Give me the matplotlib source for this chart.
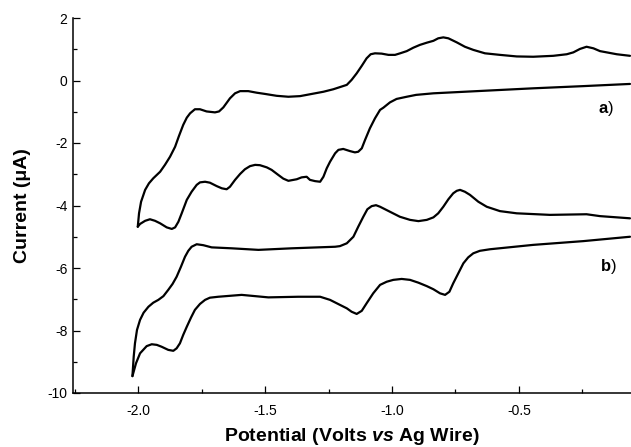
import matplotlib
matplotlib.use("Agg")
import matplotlib.pyplot as plt
from matplotlib.ticker import MultipleLocator

plt.rcParams['font.family'] = ['Liberation Sans', 'DejaVu Sans']
plt.rcParams['mathtext.fontset'] = 'custom'
plt.rcParams['mathtext.rm'] = 'Liberation Sans'
plt.rcParams['mathtext.bf'] = 'Liberation Sans:bold'
plt.rcParams['mathtext.it'] = 'Liberation Sans:italic'
plt.rcParams['mathtext.bfit'] = 'Liberation Sans:italic:bold'

# ---- data (potential in V vs Ag wire, current in uA) ----
# curve a: cathodic sweep (right -> left)
a_cath_x = [-0.063, -0.247, -0.444, -0.641, -0.837, -0.905, -0.942, -0.982, -1.008, -1.034,
            -1.047, -1.067, -1.087, -1.106, -1.119, -1.133, -1.146, -1.165, -1.192, -1.211,
            -1.224, -1.244, -1.257, -1.270, -1.283, -1.303, -1.323, -1.336, -1.356, -1.375,
            -1.408, -1.428, -1.448, -1.474, -1.493, -1.520, -1.539, -1.559, -1.579, -1.598,
            -1.618, -1.638, -1.651, -1.670, -1.690, -1.717, -1.736, -1.756, -1.769, -1.789,
            -1.808, -1.828, -1.841, -1.854, -1.867, -1.887, -1.913, -1.933, -1.953, -1.972,
            -1.992, -2.001]
a_cath_y = [-0.11, -0.18, -0.25, -0.33, -0.41, -0.46, -0.52, -0.59, -0.70, -0.87,
            -0.94, -1.21, -1.53, -1.90, -2.17, -2.28, -2.30, -2.26, -2.19, -2.22,
            -2.33, -2.60, -2.81, -3.08, -3.24, -3.22, -3.18, -3.08, -3.10, -3.16,
            -3.21, -3.14, -3.02, -2.86, -2.78, -2.71, -2.70, -2.74, -2.84, -2.99,
            -3.18, -3.40, -3.48, -3.45, -3.38, -3.27, -3.24, -3.26, -3.34, -3.56,
            -3.82, -4.25, -4.52, -4.70, -4.75, -4.70, -4.57, -4.49, -4.44, -4.49,
            -4.59, -4.68]
# curve a: anodic sweep (left -> right)
a_anod_x = [-2.001, -1.996, -1.988, -1.972, -1.957, -1.940, -1.913, -1.894, -1.874, -1.854,
            -1.839, -1.822, -1.808, -1.795, -1.776, -1.756, -1.730, -1.697, -1.681, -1.664,
            -1.638, -1.618, -1.598, -1.566, -1.533, -1.500, -1.454, -1.408, -1.362, -1.316,
            -1.270, -1.231, -1.178, -1.159, -1.139, -1.119, -1.100, -1.084, -1.067, -1.041,
            -1.014, -0.988, -0.968, -0.942, -0.916, -0.890, -0.863, -0.837, -0.818, -0.798,
            -0.778, -0.745, -0.713, -0.680, -0.634, -0.575, -0.509, -0.444, -0.365, -0.312,
            -0.286, -0.260, -0.234, -0.207, -0.181, -0.115, -0.063]
a_anod_y = [-4.68, -4.25, -3.88, -3.50, -3.29, -3.13, -2.92, -2.70, -2.44, -2.12,
            -1.78, -1.42, -1.19, -1.05, -0.92, -0.92, -0.99, -1.02, -0.99, -0.86,
            -0.57, -0.41, -0.34, -0.34, -0.39, -0.43, -0.49, -0.52, -0.50, -0.43,
            -0.36, -0.28, -0.14, 0.02, 0.23, 0.47, 0.71, 0.84, 0.87, 0.86,
            0.82, 0.82, 0.87, 0.94, 1.05, 1.14, 1.21, 1.27, 1.35, 1.38,
            1.35, 1.22, 1.08, 0.98, 0.87, 0.82, 0.77, 0.76, 0.79, 0.84,
            0.90, 1.01, 1.08, 1.03, 0.94, 0.84, 0.79]
# curve b: cathodic sweep (right -> left)
b_cath_x = [-0.063, -0.247, -0.444, -0.614, -0.654, -0.680, -0.700, -0.719, -0.739, -0.759,
            -0.774, -0.791, -0.811, -0.837, -0.863, -0.896, -0.929, -0.962, -0.995, -1.021,
            -1.047, -1.074, -1.100, -1.119, -1.139, -1.159, -1.178, -1.205, -1.244, -1.283,
            -1.369, -1.487, -1.592, -1.684, -1.717, -1.736, -1.756, -1.776, -1.791, -1.808,
            -1.822, -1.835, -1.848, -1.861, -1.881, -1.907, -1.926, -1.946, -1.966, -1.992,
            -2.008, -2.022]
b_cath_y = [-5.00, -5.14, -5.26, -5.40, -5.45, -5.53, -5.66, -5.85, -6.17, -6.49,
            -6.76, -6.86, -6.81, -6.68, -6.58, -6.47, -6.38, -6.35, -6.38, -6.44,
            -6.54, -6.81, -7.13, -7.37, -7.47, -7.40, -7.29, -7.18, -7.02, -6.92,
            -6.92, -6.94, -6.86, -6.92, -6.95, -7.02, -7.15, -7.34, -7.58, -7.88,
            -8.14, -8.41, -8.57, -8.65, -8.62, -8.52, -8.46, -8.44, -8.50, -8.73,
            -9.05, -9.46]
# curve b: anodic sweep (left -> right)
b_anod_x = [-2.022, -2.017, -2.012, -2.004, -1.992, -1.978, -1.959, -1.940, -1.920, -1.900,
            -1.881, -1.864, -1.848, -1.831, -1.815, -1.802, -1.789, -1.769, -1.743, -1.710,
            -1.631, -1.526, -1.395, -1.224, -1.205, -1.178, -1.152, -1.133, -1.113, -1.097,
            -1.080, -1.063, -1.047, -1.008, -0.969, -0.929, -0.896, -0.863, -0.837, -0.818,
            -0.798, -0.778, -0.759, -0.745, -0.732, -0.713, -0.693, -0.660, -0.627, -0.575,
            -0.509, -0.378, -0.234, -0.181, -0.063]
b_anod_y = [-9.46, -8.84, -8.41, -7.98, -7.66, -7.43, -7.24, -7.11, -7.02, -6.90,
            -6.70, -6.51, -6.28, -5.96, -5.64, -5.45, -5.32, -5.24, -5.27, -5.34,
            -5.37, -5.42, -5.37, -5.32, -5.30, -5.21, -5.00, -4.68, -4.36, -4.12,
            -4.02, -3.99, -4.04, -4.20, -4.36, -4.46, -4.50, -4.46, -4.38, -4.25,
            -4.04, -3.80, -3.61, -3.53, -3.50, -3.56, -3.66, -3.88, -4.04, -4.18,
            -4.25, -4.30, -4.28, -4.34, -4.41]

x_ticks = [-2.0, -1.5, -1.0, -0.5]
x_tick_labels = ['-2.0', '-1.5', '-1.0', '-0.5']
y_ticks = [-10, -8, -6, -4, -2, 0, 2]
y_tick_labels = ['-10', '-8', '-6', '-4', '-2', '0', '2']

fig = plt.figure(figsize=(6.31, 4.47), dpi=100)
ax = fig.add_axes([73/631, 1 - 393/447, 1 - 73/631, (393 - 18)/447])

lw = 1.6
for xs, ys in [(a_cath_x, a_cath_y), (a_anod_x, a_anod_y),
               (b_cath_x, b_cath_y), (b_anod_x, b_anod_y)]:
    ax.plot(xs, ys, color='black', lw=lw, solid_joinstyle='round', solid_capstyle='round')

ax.set_xlim(-2.256, -0.059)
ax.set_ylim(-10, 2)
ax.set_xticks(x_ticks)
ax.set_xticklabels(x_tick_labels)
ax.set_yticks(y_ticks)
ax.set_yticklabels(y_tick_labels)
ax.xaxis.set_minor_locator(MultipleLocator(0.25))
ax.yaxis.set_minor_locator(MultipleLocator(1))
ax.tick_params(which='both', direction='in', width=0.9, labelsize=10, colors='black')
ax.tick_params(which='major', length=5)
ax.tick_params(which='minor', length=3)
ax.tick_params(axis='x', pad=8)
ax.tick_params(axis='y', pad=4)
for s in ['top', 'right']:
    ax.spines[s].set_visible(False)
for s in ['left', 'bottom']:
    ax.spines[s].set_linewidth(1.1)

ax.set_xlabel(r'Potential (Volts $\mathbfit{vs}$ Ag Wire)', fontsize=14, fontweight='bold', labelpad=6)
ax.set_ylabel('Current (\u03bcA)', fontsize=14, fontweight='bold', labelpad=12)

ax.text(-0.19, -0.88, r'$\mathbf{a}$)', fontsize=12, va='center', ha='left')
ax.text(-0.181, -5.94, r'$\mathbf{b}$)', fontsize=12, va='center', ha='left')

fig.savefig('out.png', dpi=100)
